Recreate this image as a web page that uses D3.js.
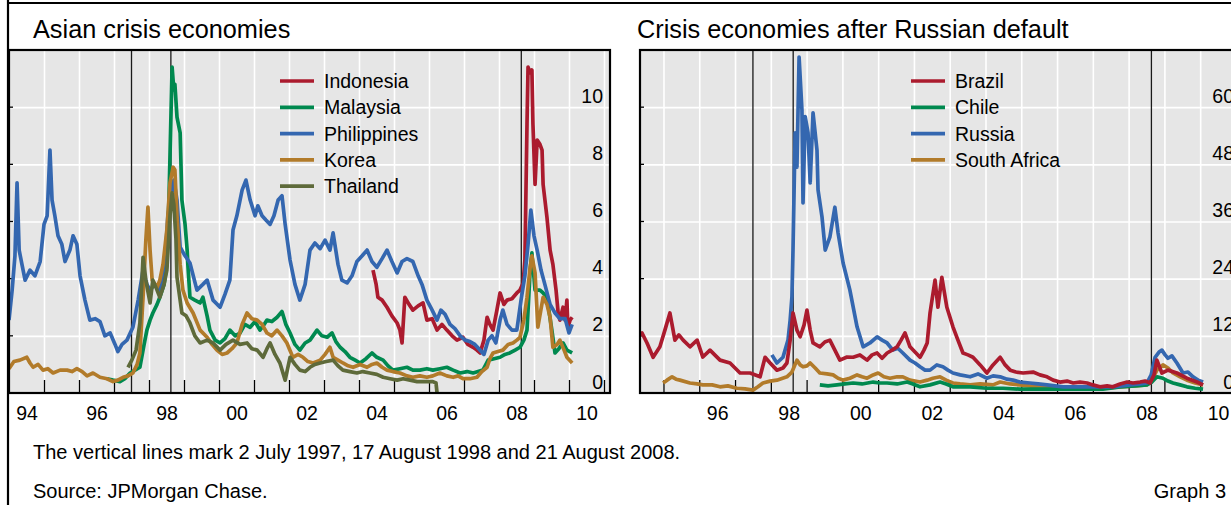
<!DOCTYPE html>
<html>
<head>
<meta charset="utf-8">
<script src="https://cdn.jsdelivr.net/npm/d3@7"></script>
<style>
  html, body { margin: 0; padding: 0; background: #ffffff; }
  svg { display: block; font-family: "Liberation Sans", Arial, Helvetica, sans-serif; }
</style>
</head>
<body>
<svg id="chart" width="1231" height="505"></svg>
<script>
// ---- Data: [decimal year, percentage points] ----
const indonesia = [[2004.40,4.3],[2004.49,3.8],[2004.54,3.35],[2004.66,3.25],[2004.80,3.0],[2004.94,2.7],[2005.09,2.45],[2005.17,2.2],[2005.23,1.75],[2005.31,3.35],[2005.43,3.1],[2005.54,2.9],[2005.69,3.05],[2005.83,3.15],[2005.94,2.55],[2006.09,2.6],[2006.23,2.2],[2006.37,2.4],[2006.51,2.2],[2006.66,2.0],[2006.80,1.85],[2006.97,1.95],[2007.11,1.7],[2007.26,1.6],[2007.37,1.5],[2007.46,1.4],[2007.57,1.85],[2007.66,2.65],[2007.74,2.4],[2007.83,2.2],[2007.94,2.9],[2008.03,3.5],[2008.14,3.1],[2008.23,3.25],[2008.37,3.3],[2008.51,3.5],[2008.60,3.6],[2008.69,3.85],[2008.74,4.65],[2008.80,9.4],[2008.83,11.4],[2008.89,11.2],[2008.94,11.3],[2008.97,9.4],[2009.03,7.3],[2009.09,8.85],[2009.17,8.7],[2009.23,8.5],[2009.26,7.3],[2009.37,6.15],[2009.46,5.0],[2009.54,4.5],[2009.63,3.6],[2009.69,2.8],[2009.74,2.55],[2009.83,3.0],[2009.89,2.55],[2009.94,3.25],[2009.97,2.3],[2010.03,2.55],[2010.09,2.65]];

const malaysia = [[1996.80,0.5],[1996.97,0.45],[1997.17,0.4],[1997.31,0.5],[1997.46,0.7],[1997.60,0.8],[1997.74,0.9],[1997.86,1.7],[1997.94,2.2],[1998.03,2.55],[1998.11,2.8],[1998.23,3.1],[1998.31,3.35],[1998.43,3.8],[1998.51,4.5],[1998.57,6.75],[1998.66,11.4],[1998.71,10.6],[1998.74,10.8],[1998.80,9.65],[1998.89,9.1],[1998.94,6.75],[1999.03,5.9],[1999.09,5.0],[1999.11,4.5],[1999.17,3.35],[1999.31,3.25],[1999.46,3.15],[1999.54,3.35],[1999.66,2.7],[1999.74,2.2],[1999.89,1.85],[2000.03,1.75],[2000.17,1.9],[2000.31,2.2],[2000.46,2.0],[2000.60,2.1],[2000.74,2.4],[2000.89,2.3],[2001.03,2.5],[2001.17,2.2],[2001.29,2.4],[2001.37,2.55],[2001.51,2.5],[2001.66,2.65],[2001.80,2.85],[2001.91,2.4],[2002.03,2.1],[2002.17,1.7],[2002.31,1.5],[2002.46,1.75],[2002.60,1.85],[2002.80,2.2],[2002.94,2.0],[2003.09,1.95],[2003.23,2.1],[2003.34,1.8],[2003.46,1.6],[2003.60,1.45],[2003.74,1.25],[2003.89,1.15],[2004.03,1.05],[2004.20,1.2],[2004.37,1.4],[2004.51,1.25],[2004.69,1.15],[2004.83,0.95],[2004.97,0.8],[2005.17,0.85],[2005.37,0.9],[2005.54,0.8],[2005.74,0.8],[2005.94,0.85],[2006.11,0.8],[2006.31,0.85],[2006.51,0.9],[2006.69,0.8],[2006.89,0.7],[2007.09,0.75],[2007.26,0.7],[2007.40,0.75],[2007.54,0.8],[2007.69,1.15],[2007.86,1.2],[2008.03,1.25],[2008.17,1.35],[2008.31,1.4],[2008.46,1.5],[2008.60,1.6],[2008.71,1.85],[2008.80,2.2],[2008.89,4.3],[2008.94,4.9],[2009.03,3.6],[2009.17,3.6],[2009.26,3.5],[2009.37,3.35],[2009.51,2.2],[2009.60,1.4],[2009.71,1.55],[2009.83,1.75],[2009.94,1.5],[2010.09,1.4]];

const philippines = [[1994.00,2.55],[1994.09,3.6],[1994.17,4.8],[1994.23,7.35],[1994.29,5.0],[1994.37,4.5],[1994.46,3.95],[1994.60,4.3],[1994.74,4.1],[1994.89,4.6],[1995.00,5.9],[1995.09,6.2],[1995.17,8.5],[1995.23,6.75],[1995.31,6.2],[1995.40,5.5],[1995.51,5.2],[1995.60,4.6],[1995.74,5.0],[1995.83,5.5],[1995.94,5.2],[1996.03,4.1],[1996.17,3.25],[1996.31,2.55],[1996.46,2.6],[1996.60,2.5],[1996.74,2.0],[1996.89,2.1],[1997.03,1.7],[1997.11,1.45],[1997.23,1.7],[1997.37,1.85],[1997.54,2.3],[1997.69,3.25],[1997.83,4.3],[1997.94,3.8],[1998.03,3.6],[1998.17,3.8],[1998.31,3.6],[1998.46,4.65],[1998.54,6.2],[1998.71,7.45],[1998.80,6.75],[1998.89,5.1],[1999.03,4.8],[1999.17,4.55],[1999.37,3.6],[1999.54,3.8],[1999.66,3.95],[1999.83,3.25],[2000.03,3.0],[2000.17,3.45],[2000.31,3.95],[2000.40,5.7],[2000.51,6.2],[2000.66,7.1],[2000.77,7.45],[2000.89,6.75],[2001.03,6.2],[2001.11,6.55],[2001.23,6.2],[2001.34,6.05],[2001.46,5.9],[2001.57,6.2],[2001.69,6.75],[2001.80,6.9],[2001.89,5.9],[2002.03,4.65],[2002.17,3.8],[2002.31,3.25],[2002.46,3.8],[2002.60,5.0],[2002.74,5.25],[2002.89,5.05],[2003.03,5.35],[2003.17,5.0],[2003.26,5.6],[2003.40,4.5],[2003.51,3.95],[2003.66,3.85],[2003.80,4.1],[2003.94,4.6],[2004.09,4.8],[2004.23,5.0],[2004.37,4.6],[2004.51,4.4],[2004.66,4.7],[2004.80,5.0],[2004.94,4.6],[2005.09,4.2],[2005.23,4.6],[2005.37,4.7],[2005.54,4.6],[2005.69,4.1],[2005.80,3.8],[2005.94,3.25],[2006.09,2.9],[2006.23,2.55],[2006.34,2.9],[2006.46,2.75],[2006.60,2.4],[2006.74,2.25],[2006.89,2.0],[2007.03,1.85],[2007.17,1.8],[2007.31,1.7],[2007.46,1.5],[2007.57,1.35],[2007.69,1.85],[2007.80,2.0],[2007.91,1.75],[2008.03,2.55],[2008.11,2.9],[2008.23,2.4],[2008.37,2.2],[2008.51,2.2],[2008.63,3.25],[2008.74,4.1],[2008.83,5.2],[2008.91,6.4],[2009.00,5.5],[2009.09,5.0],[2009.20,4.3],[2009.31,3.8],[2009.46,3.1],[2009.60,2.8],[2009.74,2.6],[2009.89,2.6],[2010.00,2.1],[2010.09,2.4]];

const korea = [[1994.00,0.85],[1994.14,1.1],[1994.31,1.15],[1994.51,1.25],[1994.60,1.05],[1994.69,0.9],[1994.83,1.0],[1994.97,0.8],[1995.11,0.85],[1995.26,0.7],[1995.46,0.8],[1995.66,0.8],[1995.80,0.75],[1995.94,0.85],[1996.09,0.75],[1996.23,0.6],[1996.40,0.7],[1996.60,0.55],[1996.80,0.5],[1996.97,0.4],[1997.11,0.45],[1997.26,0.55],[1997.40,0.6],[1997.54,0.7],[1997.66,1.0],[1997.74,1.4],[1997.83,3.35],[1997.91,5.35],[1997.97,6.5],[1998.03,5.0],[1998.09,3.95],[1998.23,3.7],[1998.31,3.95],[1998.40,4.5],[1998.51,5.7],[1998.60,7.35],[1998.69,7.9],[1998.74,7.8],[1998.80,6.15],[1998.89,4.5],[1998.97,3.6],[1999.09,3.15],[1999.26,2.8],[1999.46,2.2],[1999.66,1.95],[1999.80,1.7],[1999.94,1.5],[2000.09,1.35],[2000.23,1.4],[2000.37,1.55],[2000.51,1.75],[2000.66,2.4],[2000.80,2.8],[2000.94,2.6],[2001.09,2.55],[2001.23,2.4],[2001.37,2.1],[2001.51,2.0],[2001.66,2.2],[2001.80,2.0],[2001.94,1.75],[2002.11,1.25],[2002.26,1.35],[2002.40,1.25],[2002.54,1.1],[2002.69,1.05],[2002.89,1.15],[2003.03,1.35],[2003.17,1.6],[2003.26,1.25],[2003.40,1.15],[2003.54,1.05],[2003.69,0.95],[2003.83,0.9],[2004.03,1.0],[2004.23,0.9],[2004.37,1.0],[2004.51,1.05],[2004.66,0.9],[2004.80,0.8],[2004.97,0.75],[2005.17,0.7],[2005.37,0.6],[2005.54,0.55],[2005.74,0.6],[2005.94,0.55],[2006.11,0.6],[2006.31,0.7],[2006.51,0.6],[2006.69,0.55],[2006.83,0.6],[2006.97,0.5],[2007.17,0.5],[2007.37,0.55],[2007.51,0.75],[2007.66,0.9],[2007.74,1.2],[2007.83,1.4],[2007.97,1.45],[2008.11,1.5],[2008.26,1.7],[2008.40,1.75],[2008.51,1.85],[2008.60,1.95],[2008.71,2.55],[2008.80,3.35],[2008.89,4.4],[2008.94,4.8],[2009.03,4.2],[2009.11,2.3],[2009.26,3.35],[2009.37,3.1],[2009.46,2.65],[2009.54,1.6],[2009.66,1.7],[2009.74,1.85],[2009.86,1.5],[2009.94,1.25],[2010.09,1.05]];

const thailand = [[1997.40,0.9],[1997.51,1.15],[1997.63,1.5],[1997.74,2.45],[1997.83,4.75],[1997.91,3.95],[1998.03,3.15],[1998.11,3.95],[1998.23,3.6],[1998.31,3.35],[1998.43,3.8],[1998.51,4.3],[1998.60,6.2],[1998.66,7.0],[1998.71,6.6],[1998.77,5.4],[1998.80,4.05],[1998.94,2.8],[1999.06,2.7],[1999.17,2.45],[1999.31,2.0],[1999.46,1.75],[1999.66,1.85],[1999.83,1.75],[2000.03,1.5],[2000.20,1.7],[2000.40,1.85],[2000.60,1.7],[2000.80,1.75],[2000.94,1.55],[2001.09,1.5],[2001.26,1.25],[2001.37,1.55],[2001.46,1.75],[2001.60,1.35],[2001.74,1.05],[2001.89,0.45],[2002.03,1.25],[2002.17,1.0],[2002.31,0.8],[2002.46,0.75],[2002.60,0.9],[2002.74,1.0],[2002.89,1.05],[2003.06,1.1],[2003.26,1.15],[2003.40,0.95],[2003.54,0.8],[2003.74,0.75],[2003.94,0.7],[2004.11,0.75],[2004.31,0.7],[2004.51,0.65],[2004.69,0.55],[2004.89,0.5],[2005.09,0.45],[2005.26,0.5],[2005.46,0.45],[2005.66,0.4],[2005.83,0.4],[2006.03,0.4],[2006.11,0.4],[2006.20,0.35],[2006.23,0.0]];

const brazil = [[1994.34,12.2],[1994.40,12.6],[1994.54,10.5],[1994.71,7.5],[1994.90,9.7],[1995.04,13.2],[1995.18,16.8],[1995.32,11.1],[1995.43,12.2],[1995.55,11.1],[1995.74,9.7],[1995.94,11.1],[1996.10,7.55],[1996.30,9.0],[1996.58,6.9],[1996.86,6.3],[1997.14,4.2],[1997.42,4.2],[1997.70,3.4],[1997.84,7.5],[1997.98,6.3],[1998.17,4.8],[1998.34,5.25],[1998.45,6.3],[1998.54,11.1],[1998.62,16.8],[1998.73,13.2],[1998.82,11.8],[1998.93,14.3],[1999.01,17.4],[1999.10,13.2],[1999.18,10.5],[1999.37,9.7],[1999.51,10.7],[1999.65,11.1],[1999.79,9.0],[1999.93,6.9],[2000.13,7.55],[2000.30,7.5],[2000.49,8.0],[2000.69,6.9],[2000.83,8.0],[2000.97,8.4],[2001.11,7.3],[2001.25,8.4],[2001.39,9.0],[2001.53,9.7],[2001.64,11.1],[2001.75,12.6],[2001.89,9.7],[2002.03,8.6],[2002.17,7.5],[2002.28,9.0],[2002.37,10.5],[2002.45,16.8],[2002.59,23.7],[2002.67,18.0],[2002.78,24.3],[2002.92,18.0],[2003.09,13.9],[2003.23,11.1],[2003.37,8.4],[2003.51,8.0],[2003.65,7.5],[2003.85,5.9],[2004.04,4.2],[2004.21,5.9],[2004.41,7.5],[2004.55,5.9],[2004.69,4.8],[2004.85,4.4],[2005.05,4.2],[2005.33,4.4],[2005.52,3.8],[2005.72,3.4],[2005.89,2.7],[2006.08,2.3],[2006.28,2.5],[2006.45,2.1],[2006.64,2.3],[2006.84,2.1],[2007.00,1.7],[2007.20,1.3],[2007.40,1.5],[2007.56,1.3],[2007.76,1.9],[2007.96,2.3],[2008.12,2.1],[2008.32,2.3],[2008.46,2.5],[2008.60,2.1],[2008.71,3.8],[2008.79,6.9],[2008.93,4.2],[2009.10,4.8],[2009.35,4.2],[2009.63,3.1],[2009.91,2.3],[2010.08,1.7]];

const chile = [[1999.37,1.7],[1999.60,1.5],[1999.85,1.7],[2000.07,1.9],[2000.30,2.1],[2000.55,1.9],[2000.86,2.3],[2001.05,2.1],[2001.25,2.1],[2001.53,1.9],[2001.81,2.3],[2001.97,1.9],[2002.17,1.3],[2002.45,1.7],[2002.73,2.3],[2002.90,1.9],[2003.09,1.3],[2003.57,1.3],[2004.04,1.0],[2004.49,1.0],[2004.96,0.8],[2005.89,0.8],[2006.84,0.8],[2007.28,0.8],[2007.76,1.3],[2008.18,1.5],[2008.51,1.7],[2008.65,2.3],[2008.79,3.4],[2008.96,3.1],[2009.10,2.5],[2009.24,2.1],[2009.44,1.7],[2009.63,1.3],[2009.86,1.0],[2010.08,0.8]];

const russia = [[1998.03,8.0],[1998.17,6.3],[1998.34,7.5],[1998.48,11.1],[1998.54,15.3],[1998.59,20.2],[1998.62,30.0],[1998.68,54.6],[1998.73,47.4],[1998.79,70.5],[1998.87,59.4],[1998.90,39.9],[1998.96,58.0],[1999.04,54.6],[1999.10,44.1],[1999.18,58.8],[1999.29,51.0],[1999.32,42.6],[1999.43,37.0],[1999.52,30.0],[1999.65,32.7],[1999.79,39.0],[1999.88,33.6],[2000.02,27.3],[2000.21,21.6],[2000.41,13.9],[2000.58,9.7],[2000.77,10.5],[2000.97,11.8],[2001.11,11.1],[2001.25,10.5],[2001.41,9.0],[2001.55,9.4],[2001.69,8.4],[2001.89,6.9],[2002.03,6.3],[2002.17,5.5],[2002.31,4.8],[2002.45,4.8],[2002.64,5.9],[2002.81,5.5],[2002.95,4.8],[2003.09,4.2],[2003.29,3.8],[2003.57,3.4],[2003.79,4.0],[2004.04,3.1],[2004.21,3.6],[2004.41,3.4],[2004.60,2.9],[2004.77,2.7],[2004.96,2.3],[2005.24,2.1],[2005.47,1.9],[2005.72,1.7],[2005.94,1.5],[2006.17,1.3],[2006.64,1.3],[2007.12,1.3],[2007.56,1.3],[2007.82,1.5],[2008.04,1.7],[2008.32,1.9],[2008.51,2.1],[2008.63,3.8],[2008.74,7.5],[2008.85,8.6],[2008.93,9.0],[2009.02,8.0],[2009.10,7.3],[2009.21,7.8],[2009.35,6.3],[2009.52,4.2],[2009.66,4.4],[2009.80,3.4],[2009.94,2.7],[2010.08,2.3]];

const southAfrica = [[1994.99,2.1],[1995.10,2.7],[1995.24,3.4],[1995.35,2.9],[1995.46,2.7],[1995.74,2.1],[1995.94,1.9],[1996.10,1.7],[1996.36,1.7],[1996.58,1.3],[1996.80,1.5],[1997.05,1.0],[1997.28,0.85],[1997.50,0.6],[1997.64,1.3],[1997.78,2.1],[1997.98,2.5],[1998.17,2.7],[1998.45,3.4],[1998.59,4.4],[1998.73,6.9],[1998.82,5.9],[1998.90,5.5],[1999.01,5.7],[1999.10,6.3],[1999.24,5.25],[1999.37,4.2],[1999.57,4.0],[1999.74,3.8],[1999.88,3.1],[2000.02,2.7],[2000.21,3.1],[2000.41,3.8],[2000.55,3.4],[2000.69,3.1],[2000.86,3.8],[2001.00,4.2],[2001.16,3.4],[2001.33,3.1],[2001.53,3.4],[2001.69,3.4],[2001.89,2.7],[2002.17,2.3],[2002.37,2.7],[2002.53,3.1],[2002.73,3.4],[2002.90,2.7],[2003.09,2.1],[2003.29,1.9],[2003.57,1.7],[2003.85,1.9],[2004.21,1.7],[2004.41,2.3],[2004.69,1.9],[2004.96,1.7],[2005.44,1.3],[2005.89,1.0],[2006.36,1.0],[2006.84,1.0],[2007.28,1.0],[2007.76,1.3],[2008.18,1.5],[2008.51,1.7],[2008.65,2.7],[2008.79,4.8],[2008.96,5.9],[2009.10,5.25],[2009.24,4.2],[2009.44,3.4],[2009.63,2.7],[2009.86,2.1],[2010.08,1.7]];

// Dates of the three vertical markers: 2 Jul 1997, 17 Aug 1998, 21 Aug 2008
const eventDates = [1997.50, 1998.625, 2008.637];

const asiaYTicks = [0, 2, 4, 6, 8, 10];
const russiaYTicks = [0, 12, 24, 36, 48, 60];
const asiaXLabels = [1994, 1996, 1998, 2000, 2002, 2004, 2006, 2008, 2010];
const russiaXLabels = [1996, 1998, 2000, 2002, 2004, 2006, 2008, 2010];

// ---- Styling ----
const colours = {
  red: "#AB1B2E",
  green: "#00894F",
  blue: "#3467B0",
  ochre: "#B27B2A",
  olive: "#5E6A3A"
};

const asiaSeries = [
  { name: "Indonesia", data: indonesia, color: colours.red },
  { name: "Malaysia", data: malaysia, color: colours.green },
  { name: "Philippines", data: philippines, color: colours.blue },
  { name: "Korea", data: korea, color: colours.ochre },
  { name: "Thailand", data: thailand, color: colours.olive }
];

const russiaSeries = [
  { name: "Brazil", data: brazil, color: colours.red },
  { name: "Chile", data: chile, color: colours.green },
  { name: "Russia", data: russia, color: colours.blue },
  { name: "South Africa", data: southAfrica, color: colours.ochre }
];

const svg = d3.select("#chart");
const FONT = 19.5;
const LINE_W = 3.7;

// Outer frame (left rule and top rule)
svg.append("line").attr("x1", 8).attr("x2", 8).attr("y1", 0).attr("y2", 505)
  .attr("stroke", "#000").attr("stroke-width", 2.2);
svg.append("line").attr("x1", 8).attr("x2", 1231).attr("y1", 3).attr("y2", 3)
  .attr("stroke", "#000").attr("stroke-width", 2.2);

function drawPanel(cfg) {
  const g = svg.append("g");
  const { left, right, top, bottom } = cfg;

  const x = d3.scaleLinear().domain(cfg.xDomain).range([left, right]);
  const y = d3.scaleLinear().domain([0, cfg.yMax]).range([bottom, top]);

  // Title
  g.append("text").attr("x", cfg.titleX).attr("y", 38)
    .attr("font-size", 25.3).attr("fill", "#000").text(cfg.title);

  // Plot background
  g.append("rect").attr("x", left).attr("y", top)
    .attr("width", right - left).attr("height", bottom - top)
    .attr("fill", "#E6E6E6");

  const yearStarts = d3.range(Math.ceil(cfg.xDomain[0]), Math.floor(cfg.xDomain[1]) + 1)
    .filter(v => x(v) > left + 1 && x(v) < right - 1);

  // Vertical white gridlines at each year
  g.append("g").attr("transform", `translate(0,${bottom})`)
    .call(d3.axisBottom(x).tickValues(yearStarts).tickSize(-(bottom - top)).tickFormat(""))
    .call(a => a.select(".domain").remove())
    .call(a => a.selectAll("line").attr("stroke", "#fff").attr("stroke-width", 1.6));

  // Horizontal white gridlines
  const gridY = cfg.yTicks.filter(v => v > 0);
  g.append("g").attr("transform", `translate(${left},0)`)
    .call(d3.axisLeft(y).tickValues(gridY).tickSize(-(right - left)).tickFormat(""))
    .call(a => a.select(".domain").remove())
    .call(a => a.selectAll("line").attr("stroke", "#fff").attr("stroke-width", 1.6));

  // Event markers
  g.append("g").selectAll("line").data(eventDates).join("line")
    .attr("x1", d => x(d)).attr("x2", d => x(d))
    .attr("y1", top).attr("y2", bottom)
    .attr("stroke", "#1a1a1a").attr("stroke-width", 1.3);

  // Year tick marks rising from the bottom axis
  g.append("g").attr("transform", `translate(0,${bottom})`)
    .call(d3.axisBottom(x).tickValues(yearStarts).tickSize(-13).tickFormat(""))
    .call(a => a.select(".domain").remove())
    .call(a => a.selectAll("line").attr("stroke", "#000").attr("stroke-width", 1.3));

  // Small edge ticks on the left side
  g.append("g").selectAll("line").data(gridY).join("line")
    .attr("x1", left).attr("x2", left + 4)
    .attr("y1", d => y(d)).attr("y2", d => y(d))
    .attr("stroke", "#000").attr("stroke-width", 1.3);

  // Series
  const clipId = "clip-" + cfg.id;
  g.append("clipPath").attr("id", clipId).append("rect")
    .attr("x", left).attr("y", top).attr("width", right - left).attr("height", bottom - top);
  const line = d3.line().x(d => x(d[0])).y(d => y(d[1]));
  g.append("g").attr("clip-path", `url(#${clipId})`)
    .selectAll("path").data(cfg.drawOrder).join("path")
    .attr("d", s => line(s.data))
    .attr("fill", "none")
    .attr("stroke", s => s.color)
    .attr("stroke-width", LINE_W)
    .attr("stroke-linejoin", "round")
    .attr("stroke-linecap", "butt");

  // Value labels inside the plot, right-aligned, sitting above gridlines
  g.append("g").attr("transform", `translate(${right - 7},0)`)
    .call(d3.axisLeft(y).tickValues(cfg.yTicks).tickSize(0).tickPadding(0).tickFormat(d3.format("d")))
    .call(a => a.select(".domain").remove())
    .call(a => a.selectAll("text")
      .attr("dy", null).attr("y", -5)
      .attr("font-size", FONT).attr("font-family", null).attr("fill", "#000"));

  // Plot border
  g.append("rect").attr("x", left).attr("y", top)
    .attr("width", right - left).attr("height", bottom - top)
    .attr("fill", "none").attr("stroke", "#000").attr("stroke-width", 2.2);

  // Year labels centred within each year
  g.append("g").attr("transform", `translate(0,${bottom})`)
    .call(d3.axisBottom(x).tickValues(cfg.xLabels.map(v => v + 0.5)).tickSize(0).tickPadding(0)
      .tickFormat(v => String(Math.floor(v) % 100).padStart(2, "0")))
    .call(a => a.select(".domain").remove())
    .call(a => a.selectAll("text")
      .attr("dy", null).attr("y", 26.5)
      .attr("font-size", FONT).attr("font-family", null).attr("fill", "#000"));

  // Legend
  const lg = g.append("g");
  cfg.series.forEach((s, i) => {
    const ly = 81 + i * 26.3;
    lg.append("line").attr("x1", cfg.legendX).attr("x2", cfg.legendX + 34)
      .attr("y1", ly).attr("y2", ly)
      .attr("stroke", s.color).attr("stroke-width", LINE_W);
    lg.append("text").attr("x", cfg.legendX + 44).attr("y", ly + 7)
      .attr("font-size", FONT).attr("fill", "#000").text(s.name);
  });
}

drawPanel({
  id: "asia",
  title: "Asian crisis economies",
  titleX: 33,
  left: 9, right: 610, top: 50, bottom: 393,
  xDomain: [1994, 1994 + 601 / 35],
  yMax: 12,
  yTicks: asiaYTicks,
  xLabels: asiaXLabels,
  series: asiaSeries,
  drawOrder: asiaSeries,
  legendX: 280
});

drawPanel({
  id: "russia",
  title: "Crisis economies after Russian default",
  titleX: 637,
  left: 640, right: 1241, top: 50, bottom: 393,
  xDomain: [1994 + 12.3 / 35.78, 1994 + 613.3 / 35.78],
  yMax: 72,
  yTicks: russiaYTicks,
  xLabels: russiaXLabels,
  series: russiaSeries,
  drawOrder: [southAfrica, chile, russia, brazil].map(d => russiaSeries.find(s => s.data === d)),
  legendX: 911
});

// Footnotes
svg.append("text").attr("x", 33).attr("y", 459).attr("font-size", 20)
  .text("The vertical lines mark 2 July 1997, 17 August 1998 and 21 August 2008.");
svg.append("text").attr("x", 33).attr("y", 498).attr("font-size", 20)
  .text("Source: JPMorgan Chase.");
svg.append("text").attr("x", 1226).attr("y", 498).attr("font-size", 20)
  .attr("text-anchor", "end").text("Graph 3");
</script>
</body>
</html>
